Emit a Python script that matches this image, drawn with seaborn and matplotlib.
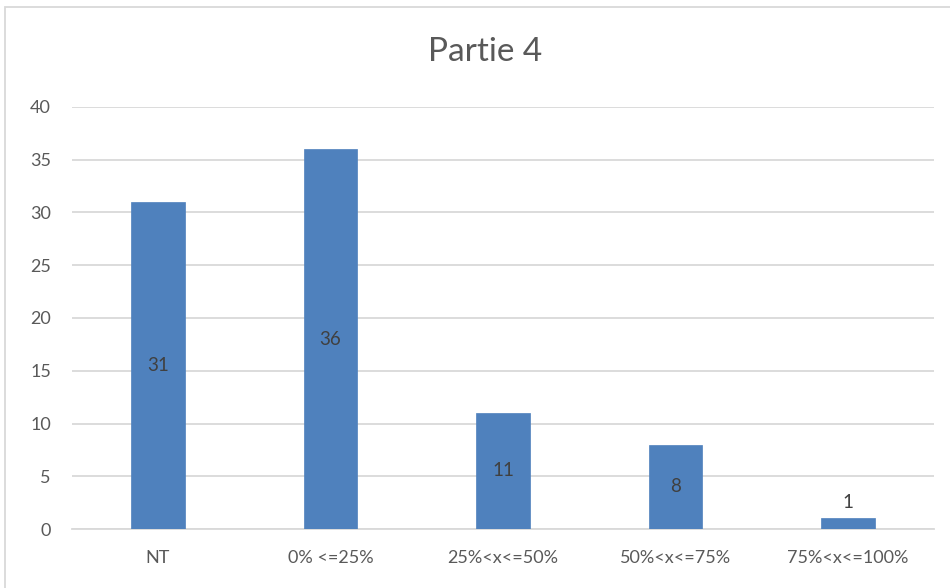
import matplotlib
matplotlib.use("Agg")
import matplotlib.pyplot as plt
import seaborn as sns
import pandas as pd
from matplotlib.patches import Rectangle

categories = ["NT", "0% <=25%", "25%<x<=50%", "50%<x<=75%", "75%<x<=100%"]
values = [31, 36, 11, 8, 1]
yticks = [0, 5, 10, 15, 20, 25, 30, 35, 40]
title = "Partie 4"

sns.set_theme(style="white")
plt.rcParams['font.family'] = ['Lato', 'DejaVu Sans']

df = pd.DataFrame({"cat": categories, "val": values})
W, H = 950, 588
fig = plt.figure(figsize=(W/100, H/100), dpi=100)
ax = fig.add_axes([71.75/W, 1-529/H, (934.25-71.75)/W, (529-107)/H])

sns.barplot(data=df, x="cat", y="val", color="#4F81BD", saturation=1, width=0.31, ax=ax, zorder=3,
            edgecolor="#4F81BD", linewidth=0.5)

ax.set_ylim(0, 40)
ax.set_yticks(yticks)
ax.set_xlim(-0.5, len(categories)-0.5)
ax.grid(axis="y", color="#d9d9d9", linewidth=1.3, zorder=0)
for s in ["top", "left", "right"]:
    ax.spines[s].set_visible(False)
ax.spines["bottom"].set_color("#d9d9d9")
ax.spines["bottom"].set_linewidth(1.3)
ax.set_xlabel("")
ax.set_ylabel("")
ax.tick_params(axis="both", length=0, labelsize=13, colors="#595959")
ax.tick_params(axis="x", pad=15)
ax.tick_params(axis="y", pad=15)

for i, v in enumerate(values):
    if v >= 5:
        ax.text(i, v/2, str(v), ha="center", va="center", fontsize=13.5, color="#404040", zorder=4)
    else:
        ax.text(i, v + 0.7, str(v), ha="center", va="bottom", fontsize=13.5, color="#404040", zorder=4)

fig.text(485/W, 1-52/H, title, ha="center", va="center", fontsize=24, color="#595959")

fig.patches.append(Rectangle((5/W, -0.1), 1.2, 1.1 - 7/H, transform=fig.transFigure,
                             fill=False, edgecolor="#d9d9d9", linewidth=1.3))

fig.savefig("out.png", dpi=100)
